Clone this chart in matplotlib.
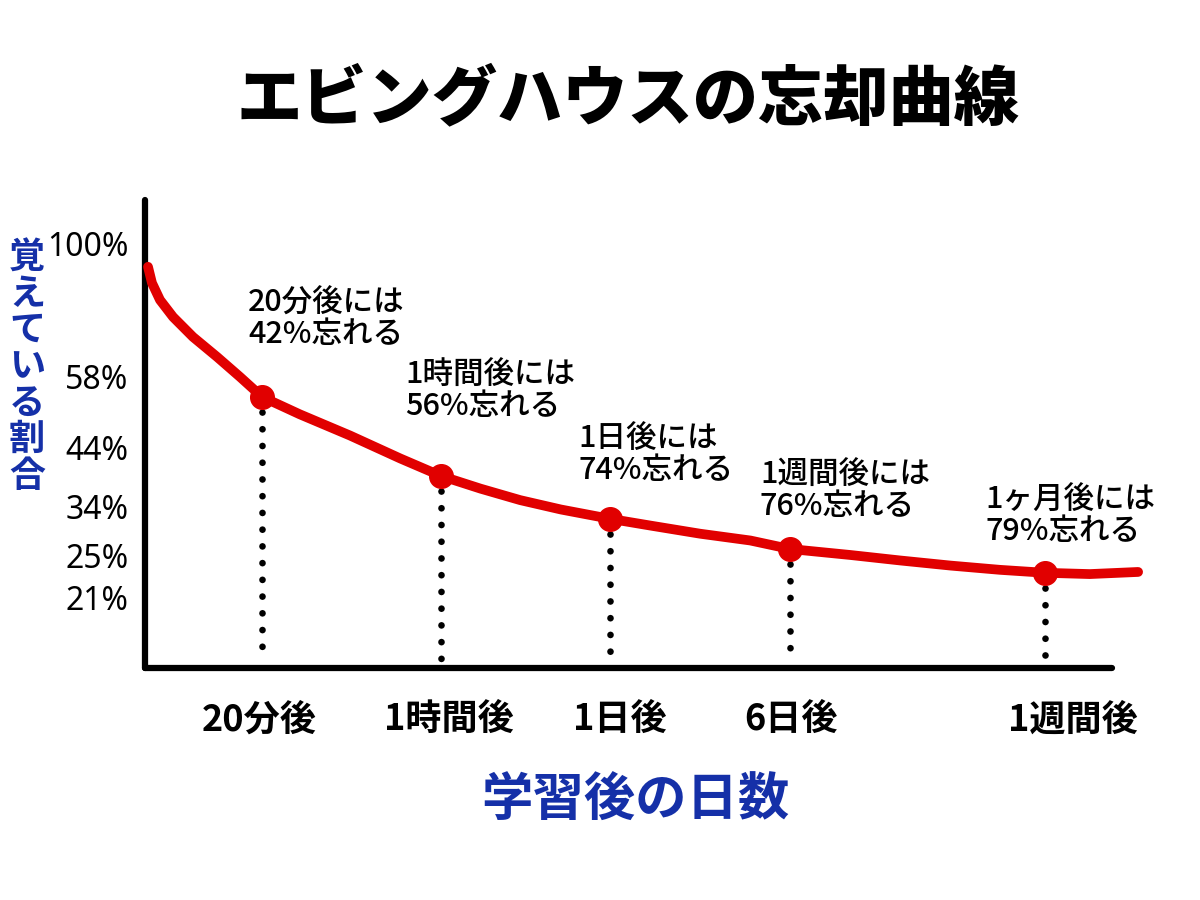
import matplotlib
matplotlib.use("Agg")
import matplotlib.pyplot as plt
import matplotlib.transforms as mtransforms
import numpy as np

plt.rcParams['font.family'] = ['Noto Sans CJK JP', 'DejaVu Sans']

# ---- data (axis units: x 0-100 along the time axis, y in chart height units) ----
title = "エビングハウスの忘却曲線"
y_axis_label = "覚えている割合"
x_axis_label = "学習後の日数"

x_tick_labels = ["20分後", "1時間後", "1日後", "6日後", "1週間後"]
point_x = [12.1, 30.6, 48.1, 66.7, 93.1]
point_y = [63.8, 45.2, 35.1, 28.0, 22.4]

annotations = ["20分後には\n42%忘れる", "1時間後には\n56%忘れる", "1日後には\n74%忘れる",
               "1週間後には\n76%忘れる", "1ヶ月後には\n79%忘れる"]

y_tick_labels = ["100%", "58%", "44%", "34%", "25%", "21%"]
y_tick_pos = [100.0, 68.7, 51.8, 37.9, 26.4, 16.7]

curve_x = [0.31, 0.72, 1.55, 2.90, 4.96, 7.45, 9.82, 12.1, 16.0, 21.2, 26.4, 30.6, 34.7, 38.8,
           43.0, 48.1, 52.3, 57.4, 62.6, 66.7, 72.9, 78.1, 83.3, 88.4, 93.1, 97.7, 102.7]
curve_y = [94.4, 90.6, 86.6, 82.6, 77.9, 73.2, 68.5, 63.8, 59.7, 54.7, 49.3, 45.2, 42.2, 39.5,
           37.3, 35.1, 33.5, 31.6, 30.0, 28.0, 26.6, 25.3, 24.1, 23.1, 22.4, 22.1, 22.6]

# ---- layout ----
RED = "#e10000"
BLUE = "#1530a8"
W, H = 1200, 900
fig = plt.figure(figsize=(12, 9), dpi=100)
fig.patch.set_facecolor("white")

ax_left, ax_right, ax_top, ax_bottom = 145, 1112, 200, 668
ax = fig.add_axes([ax_left / W, 1 - ax_bottom / H, (ax_right - ax_left) / W, (ax_bottom - ax_top) / H])
ax.set_xlim(0, 100)
ax.set_ylim(0, (ax_bottom - ax_top) / 4.25)

for s in ["top", "right"]:
    ax.spines[s].set_visible(False)
for s in ["left", "bottom"]:
    ax.spines[s].set_linewidth(4.5)
    ax.spines[s].set_color("black")
    ax.spines[s].set_capstyle("round")

# curve
ax.plot(curve_x, curve_y, color=RED, lw=7, solid_capstyle="round", solid_joinstyle="round",
        clip_on=False, zorder=3)
# dotted verticals
for x, y in zip(point_x, point_y):
    ax.plot([x, x], [y - 3.5, 1.5], color="black", lw=4.8, dash_capstyle="round",
            linestyle=(0, (0.01, 2.5)), zorder=2)
# points
ax.plot(point_x, point_y, "o", color=RED, ms=17, zorder=4)

# annotations (offsets in pixels from each point: left edge, top edge)
ann_offsets = [(-14, 109), (-36, 116), (-32, 95), (-30, 89), (-60, 88)]
for (x, y), txt, (dx, dy) in zip(zip(point_x, point_y), annotations, ann_offsets):
    ax.annotate(txt, (x, y), xytext=(dx * 0.72, dy * 0.72), textcoords="offset points",
                ha="left", va="top", fontsize=22, fontweight="medium", color="black",
                linespacing=1.0)

# ticks
ax.set_xticks(point_x)
ax.set_xticklabels(x_tick_labels, fontsize=26, fontweight="bold")
ax.tick_params(axis="x", length=0, pad=24)
xlab_dx = [-3, 8, 10, 1, 28]
for lab, dx in zip(ax.get_xticklabels(), xlab_dx):
    lab.set_transform(lab.get_transform() + mtransforms.ScaledTranslation(dx / 100, 0, fig.dpi_scale_trans))

ax.set_yticks(y_tick_pos)
ax.set_yticklabels(y_tick_labels, fontsize=23, family=["Noto Sans", "DejaVu Sans"])
ax.tick_params(axis="y", length=0, pad=12)

# titles
fig.text(628 / W, 1 - 100 / H, title, ha="center", va="center", fontsize=47, fontweight="black")
fig.text(635 / W, 1 - 800 / H, x_axis_label, ha="center", va="center", fontsize=37,
         fontweight="bold", color=BLUE)
fig.text(27 / W, 1 - 367 / H, "\n".join(y_axis_label), ha="center", va="center", fontsize=26,
         fontweight="bold", color=BLUE, linespacing=0.98)

fig.savefig("out.png", dpi=100, facecolor="white")
